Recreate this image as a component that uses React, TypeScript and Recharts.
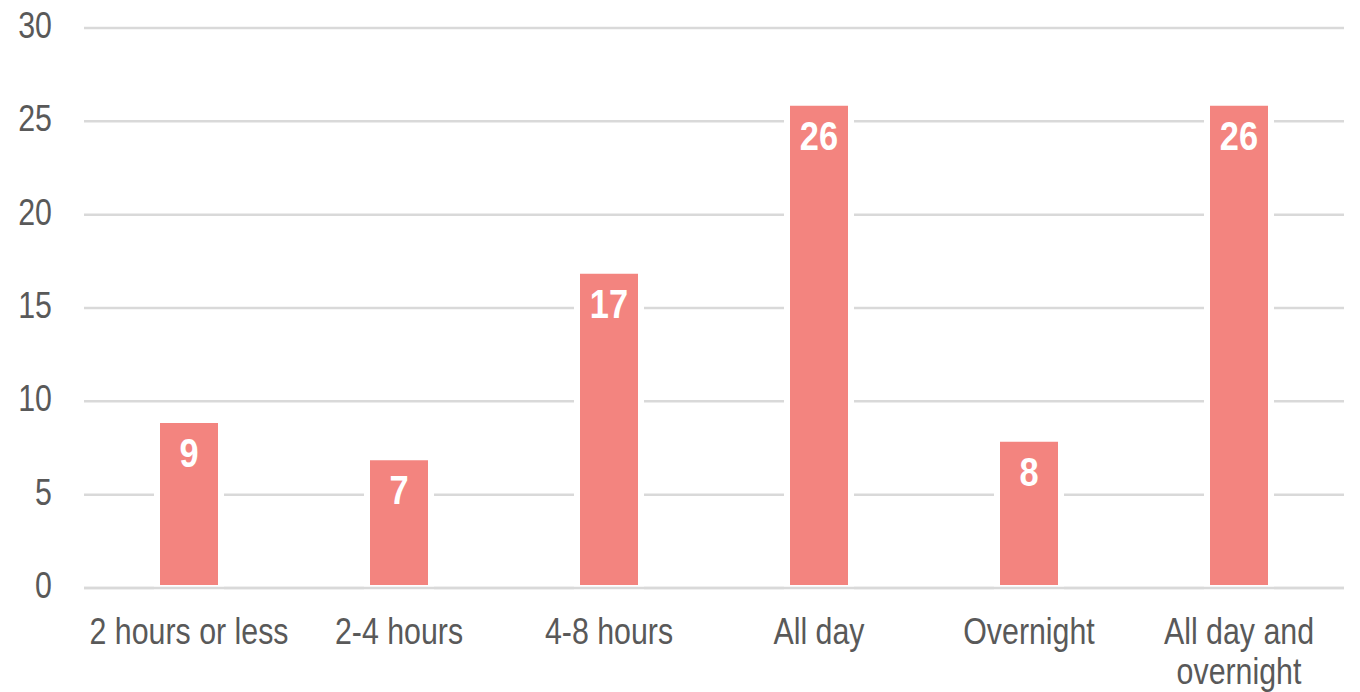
import React from "react";
import { BarChart, Bar, XAxis, YAxis, CartesianGrid, LabelList, ReferenceLine } from "recharts";

const categories = ["2 hours or less", "2-4 hours", "4-8 hours", "All day", "Overnight", "All day and overnight"];
const categoryLines = [["2 hours or less"], ["2-4 hours"], ["4-8 hours"], ["All day"], ["Overnight"], ["All day and", "overnight"]];
const values = [9, 7, 17, 26, 8, 26];
const yTicks = [0, 5, 10, 15, 20, 25, 30];

const data = categories.map((c, i) => ({ name: c, value: values[i] }));

const FONT = "'Liberation Sans', Arial, sans-serif";
const TEXT = "#595959";
const BAR = "#F3847F";
const GRID = "#D9D9D9";
const SQUEEZE = 0.82;

const XTick = (props: any) => {
  const { x, y, payload } = props;
  const idx = categories.indexOf(payload.value);
  const lines = idx >= 0 ? categoryLines[idx] : [payload.value];
  return (
    <g transform={`translate(${x},${y + 56}) scale(${SQUEEZE},1)`}>
      <text x={0} y={0} textAnchor="middle" fill={TEXT} fontFamily={FONT} fontSize={37}>
        {lines.map((l: string, i: number) => (
          <tspan key={i} x={0} dy={i === 0 ? 0 : 40}>{l}</tspan>
        ))}
      </text>
    </g>
  );
};

const YTick = (props: any) => {
  const { x, y, payload } = props;
  return (
    <g transform={`translate(${x},${y + 10}) scale(${SQUEEZE},1)`}>
      <text x={0} y={0} textAnchor="end" fill={TEXT} fontFamily={FONT} fontSize={37}>
        {payload.value}
      </text>
    </g>
  );
};

const BarLabel = (props: any) => {
  const { x, y, width, value } = props;
  return (
    <g transform={`translate(${x + width / 2},${y + 47}) scale(0.86,1)`}>
      <text x={0} y={0} textAnchor="middle" fill="#FFFFFF" fontFamily={FONT} fontWeight="bold" fontSize={40}>
        {Math.round(value)}
      </text>
    </g>
  );
};

export default function App() {
  return (
    <div style={{ margin: "-8px 0 0 -8px" }}>
      <BarChart width={1360} height={692} data={data} margin={{ top: 28, right: 16, bottom: 44, left: 8 }} barSize={64}>
        <CartesianGrid vertical={false} stroke={GRID} strokeWidth={2.5} />
        <XAxis dataKey="name" axisLine={false} tickLine={false} tickSize={0} tickMargin={0} height={60} interval={0} tick={<XTick />} />
        <YAxis domain={[0, 30]} ticks={yTicks} axisLine={false} tickLine={false} tickSize={0} tickMargin={32} width={76} tick={<YTick />} />
        <Bar dataKey="value" fill={BAR} stroke="#FFFFFF" strokeWidth={6} isAnimationActive={false}>
          <LabelList dataKey="value" content={<BarLabel />} />
        </Bar>
        <ReferenceLine y={0} stroke={GRID} strokeWidth={2.5} />
      </BarChart>
    </div>
  );
}
